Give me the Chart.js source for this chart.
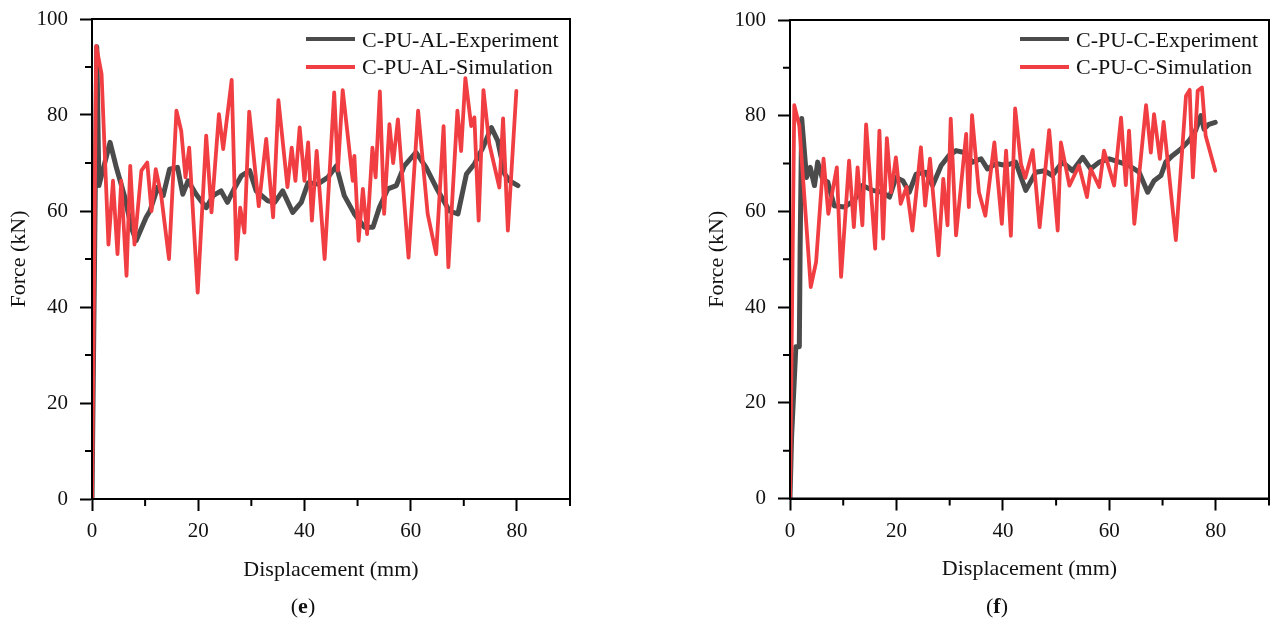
<!DOCTYPE html>
<html>
<head>
<meta charset="utf-8">
<script src="https://cdn.jsdelivr.net/npm/chart.js@4.4.1/dist/chart.umd.min.js"></script>
<style>
  body { margin: 0; background: #fff; width: 1274px; height: 628px; overflow: hidden; position: relative;
         font-family: 'Liberation Serif', 'Times New Roman', serif; color: #111; }
  .box { position: absolute; }
  .legend { position: absolute; font-size: 22px; line-height: 27.5px; }
  .legend .row { display: flex; align-items: center; white-space: nowrap; }
  .legend .swatch { display: inline-block; width: 49px; margin-right: 7px; }
  .caption { position: absolute; font-size: 22px; transform: translate(-50%, -50%); }
</style>
</head>
<body>
<div class="box" id="boxE" style="left:0;top:0;width:620px;height:600px"><canvas id="chartE"></canvas></div>
<div class="box" id="boxF" style="left:698px;top:0;width:576px;height:600px"><canvas id="chartF"></canvas></div>
<div class="legend" id="legendE" style="left:306px;top:25.5px"></div>
<div class="legend" id="legendF" style="left:1020px;top:25.5px"></div>
<div class="caption" style="left:303px;top:606px">(<b>e</b>)</div>
<div class="caption" style="left:997px;top:606px">(<b>f</b>)</div>

<script>
// ---- data (displacement in mm, force in kN) ----

// (e) C-PU-AL
const alExpX = [0, 0.9, 1.3, 3.4, 4.6, 6.1, 7.4, 8.3, 10.2, 10.9, 12.4, 13.4, 14.6, 16.1, 17.1, 18.1, 19.6, 21.5, 22.8,
  24.3, 25.5, 26.9, 28.1, 29.7, 30.9, 33.1, 34.4, 35.9, 37.8, 39.4, 40.7, 42.5, 44.4, 46.0, 47.5, 49.4, 51.3, 52.9,
  54.1, 55.7, 57.3, 58.8, 61.0, 62.9, 64.8, 67.3, 68.9, 70.5, 72.0, 73.6, 75.2, 76.4, 77.7, 78.6, 80.2];
const alExpY = [0, 94.2, 65.3, 74.3, 69, 63.2, 56.6, 53.8, 58.7, 60, 65, 63.2, 68.7, 69.1, 63.5, 66.3, 63.5, 60.7, 63.2,
  64.2, 61.8, 64.9, 67.3, 68.4, 64.2, 62.1, 61.8, 64.2, 59.7, 61.8, 65.9, 65.6, 67, 69.4, 63.2, 59.4, 56.6, 56.6,
  60.7, 64.6, 65.3, 69.4, 72.2, 69.1, 64.9, 60, 59.4, 67.7, 69.8, 73.2, 77.4, 74.6, 67.7, 66.3, 65.3];

const alSimX = [0, 0.8, 1.8, 3.1, 3.95, 4.8, 5.5, 6.5, 7.2, 8.0, 9.3, 10.4, 11.2, 12.0, 13.0, 14.5, 15.9, 16.8, 17.6, 18.3,
  19.9, 21.5, 22.5, 23.9, 24.7, 26.3, 27.2, 27.9, 28.7, 29.6, 31.4, 32.8, 34.1, 35.1, 36.8, 37.6, 38.3, 39.1, 40.0,
  40.7, 41.4, 42.3, 43.8, 45.6, 46.3, 47.2, 49.1, 49.4, 50.2, 51.0, 51.8, 52.8, 53.4, 54.2, 55.0, 56.0, 56.7, 57.6,
  59.6, 61.4, 63.2, 64.8, 66.2, 67.1, 68.8, 69.5, 70.3, 71.4, 72.0, 72.8, 73.7, 74.8, 76.7, 77.4, 78.3, 79.9];
const alSimY = [0, 94.4, 88.5, 53, 66.3, 51, 66.3, 46.5, 69.4, 53, 68.4, 70.1, 60, 68.7, 63.5, 50, 80.9, 76.7, 67, 73.2,
  43, 75.7, 59.7, 80.2, 72.9, 87.3, 50, 60.7, 55.5, 80.7, 61, 75, 58.7, 83.1, 65, 73.2, 66.3, 77.4, 66.3,
  74.3, 58, 72.5, 50, 84.7, 68.4, 85.2, 66.3, 71.5, 53.8, 64.6, 55.2, 73.2, 67, 84.9, 59.4, 78.1, 70, 79.1,
  50.3, 80.9, 59.4, 51, 77.7, 48.3, 80.9, 72.5, 87.7, 77.7, 79.5, 58, 85.2, 74, 64.9, 79.3, 55.9, 85];

// (f) C-PU-C
const cExpX = [0, 0.3, 1.1, 1.75, 1.9, 2.2, 3.1, 3.8, 4.6, 5.2, 6.1, 7.1, 8.3, 10.2, 12.1, 13.6, 15.5, 17.4, 18.7, 19.9,
  21.2, 22.4, 23.7, 25.5, 26.8, 28.4, 29.9, 31.2, 32.7, 34.3, 35.9, 37.1, 38.7, 40.6, 42.4, 44.3, 46.2, 47.8, 49.3,
  51.2, 53.1, 55.0, 56.5, 58.1, 60.0, 61.9, 63.7, 65.6, 67.2, 68.4, 69.7, 70.6, 71.9, 73.4, 75.0, 76.2, 77.2, 77.8,
  78.7, 79.9];
const cExpY = [0, 12.9, 31.7, 31.7, 52, 79.4, 67.1, 69.2, 65.4, 70.3, 66.8, 66.1, 61.2, 60.9, 62.3, 65.4, 64.4, 64, 63, 67.1,
  66.4, 64, 67.8, 68.2, 65.4, 69.6, 71.7, 72.7, 72.3, 70.3, 71, 68.9, 70, 69.6, 70.3, 64.4, 68.2, 68.5, 67.5,
  70.3, 68.5, 71.3, 68.9, 70.3, 71, 70.3, 69.6, 68.2, 64, 66.4, 67.5, 70.3, 71.7, 73, 74.8, 76.9, 80, 77.2,
  78.2, 78.6];

const cSimX = [0, 0.8, 1.75, 3.9, 4.9, 6.3, 7.2, 8.8, 9.6, 11.1, 12.0, 12.7, 13.6, 14.3, 16.0, 16.8, 17.5, 18.2, 19.0, 19.9,
  20.8, 21.9, 23.0, 24.6, 25.4, 26.3, 27.9, 28.8, 29.6, 30.2, 31.2, 33.1, 33.6, 34.2, 35.5, 36.7, 38.4, 39.8, 40.6,
  41.5, 42.3, 43.4, 44.2, 45.6, 46.9, 48.7, 50.3, 50.9, 52.5, 54.3, 55.8, 56.5, 58.1, 59.0, 60.9, 62.2, 63.1, 63.7,
  64.7, 66.9, 67.8, 68.4, 69.5, 70.2, 72.5, 74.4, 75.1, 75.7, 76.6, 77.4, 78.1, 79.9];
const cSimY = [0, 82.2, 77.9, 44.2, 49.4, 71, 59.5, 69.2, 46.3, 70.6, 56.7, 69.2, 57.1, 78.2, 52.2, 76.9, 54.3, 75.3, 64, 71.3,
  61.6, 65.1, 56, 73.4, 61.2, 71, 50.8, 66.8, 57.1, 79.4, 55, 76.2, 60.9, 80.1, 64, 59.1, 74.4, 57.4, 72.7,
  54.9, 81.5, 69.9, 67, 72.8, 56.7, 77, 56, 74.4, 65.4, 69.6, 63, 68.9, 65.1, 72.7, 65.4, 79.6, 65.5, 76.9,
  57.4, 82.2, 72.3, 80.3, 71, 78.7, 54, 84.1, 85.4, 67.1, 85.2, 85.9, 75.8, 68.5];

const xMajor = [0, 20, 40, 60, 80];
const xMinor = [10, 30, 50, 70, 90];
const yMinor = [10, 30, 50, 70, 90];

const GREY = '#4b4b4b';
const RED = '#f03e42';

Chart.defaults.font.family = "'Liberation Serif', 'Times New Roman', serif";
Chart.defaults.font.size = 21;
Chart.defaults.color = '#111';

function pts(xs, ys) { return xs.map((x, i) => ({ x: x, y: ys[i] })); }

// frame round the plot plus the short minor ticks
const framePlugin = {
  id: 'frame',
  afterDraw(chart) {
    const { ctx, chartArea: a, scales: { x, y } } = chart;
    ctx.save();
    ctx.strokeStyle = '#000';
    ctx.lineWidth = 2;
    ctx.strokeRect(a.left, a.top, a.right - a.left, a.bottom - a.top);
    ctx.beginPath();
    xMinor.forEach(v => {
      const px = x.getPixelForValue(v);
      ctx.moveTo(px, a.bottom); ctx.lineTo(px, a.bottom + 7);
    });
    yMinor.forEach(v => {
      const py = y.getPixelForValue(v);
      ctx.moveTo(a.left, py); ctx.lineTo(a.left - 7, py);
    });
    ctx.stroke();
    ctx.restore();
  }
};

function makeChart(id, expLabel, simLabel, exp, sim, pad) {
  return new Chart(document.getElementById(id), {
    type: 'line',
    data: {
      datasets: [
        { label: expLabel, data: exp, borderColor: GREY, borderWidth: 5, pointRadius: 0, order: 2,
          borderJoinStyle: 'round', borderCapStyle: 'round', tension: 0 },
        { label: simLabel, data: sim, borderColor: RED, borderWidth: 3.8, pointRadius: 0, order: 1,
          borderJoinStyle: 'round', borderCapStyle: 'round', tension: 0 }
      ]
    },
    options: {
      responsive: true,
      maintainAspectRatio: false,
      animation: false,
      layout: { padding: pad },
      plugins: { legend: { display: false }, tooltip: { enabled: false } },
      scales: {
        x: {
          type: 'linear', min: 0, max: 90,
          afterFit: s => { s.height = 85; s.paddingLeft = 0; s.paddingRight = 0; },
          afterBuildTicks: s => { s.ticks = xMajor.map(v => ({ value: v })); },
          ticks: { padding: 8, maxRotation: 0, includeBounds: false },
          grid: { drawOnChartArea: false, drawTicks: true, tickLength: 12, tickWidth: 2, tickColor: '#000' },
          border: { display: true, color: '#000', width: 2 },
          title: { display: true, text: 'Displacement (mm)', font: { size: 22 }, padding: { top: 0, bottom: 1 } }
        },
        y: {
          type: 'linear', min: 0, max: 100,
          afterFit: s => { s.width = 92; s.paddingTop = 0; s.paddingBottom = 0; },
          ticks: { stepSize: 20, padding: 12 },
          grid: { drawOnChartArea: false, drawTicks: true, tickLength: 12, tickWidth: 2, tickColor: '#000' },
          border: { display: true, color: '#000', width: 2 },
          title: { display: true, text: 'Force (kN)', font: { size: 22 }, padding: { top: 6, bottom: 0 } }
        }
      }
    },
    plugins: [framePlugin]
  });
}

const chartE = makeChart('chartE', 'C-PU-AL-Experiment', 'C-PU-AL-Simulation',
  pts(alExpX, alExpY), pts(alSimX, alSimY), { left: 0, top: 19, right: 50, bottom: 16 });
const chartF = makeChart('chartF', 'C-PU-C-Experiment', 'C-PU-C-Simulation',
  pts(cExpX, cExpY), pts(cSimX, cSimY), { left: 0, top: 20, right: 5, bottom: 16.5 });

// html legend built from the datasets
function buildLegend(chart, elId) {
  const el = document.getElementById(elId);
  chart.data.datasets.forEach(ds => {
    const row = document.createElement('div');
    row.className = 'row';
    const sw = document.createElement('span');
    sw.className = 'swatch';
    sw.style.height = (ds.borderWidth > 4 ? 4 : 3.5) + 'px';
    sw.style.background = ds.borderColor;
    row.appendChild(sw);
    row.appendChild(document.createTextNode(ds.label));
    el.appendChild(row);
  });
}
buildLegend(chartE, 'legendE');
buildLegend(chartF, 'legendF');
</script>
</body>
</html>
